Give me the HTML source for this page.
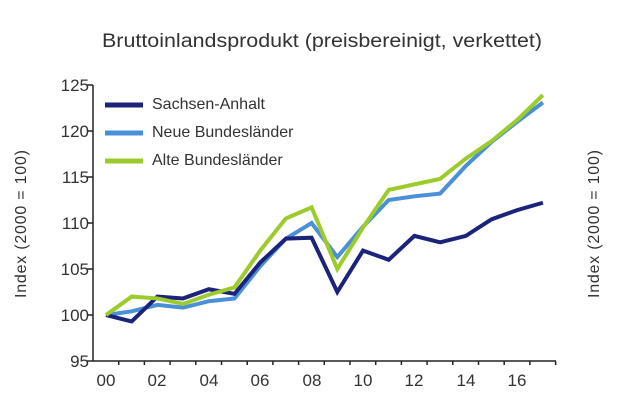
<!DOCTYPE html>
<html><head><meta charset="utf-8"><style>
html,body{margin:0;padding:0;background:#fff;}
svg{display:block;font-family:"Liberation Sans",sans-serif;}
text{fill:#333;}
</style></head><body>
<svg width="620" height="414" viewBox="0 0 620 414">
<text x="322" y="47" font-size="19" text-anchor="middle" textLength="440" lengthAdjust="spacingAndGlyphs">Bruttoinlandsprodukt (preisbereinigt, verkettet)</text>
<g stroke="#222" stroke-width="1.5" fill="none">
<line x1="93" y1="85" x2="93" y2="361"/>
<line x1="93" y1="361" x2="556" y2="361"/>
<line x1="87" y1="85" x2="93" y2="85"/>
<line x1="87" y1="131" x2="93" y2="131"/>
<line x1="87" y1="177" x2="93" y2="177"/>
<line x1="87" y1="223" x2="93" y2="223"/>
<line x1="87" y1="269" x2="93" y2="269"/>
<line x1="87" y1="315" x2="93" y2="315"/>
<line x1="87" y1="361" x2="93" y2="361"/>
<path d="M118.7 361v4M144.4 361v4M170.1 361v4M195.8 361v4M221.5 361v4M247.2 361v4M272.9 361v4M298.6 361v4M324.3 361v4M350 361v4M375.7 361v4M401.4 361v4M427.1 361v4M452.8 361v4M478.5 361v4M504.2 361v4M529.9 361v4M555.6 361v4"/>
</g>
<g font-size="17" text-anchor="end">
<text x="89" y="91">125</text><text x="89" y="137">120</text><text x="89" y="183">115</text>
<text x="89" y="229">110</text><text x="89" y="275">105</text><text x="89" y="321">100</text><text x="89" y="367">95</text>
</g>
<g font-size="17" text-anchor="middle">
<text x="106" y="386">00</text><text x="157" y="386">02</text><text x="209" y="386">04</text>
<text x="260" y="386">06</text><text x="312" y="386">08</text><text x="363" y="386">10</text>
<text x="414" y="386">12</text><text x="466" y="386">14</text><text x="517" y="386">16</text>
</g>
<text font-size="16" text-anchor="middle" textLength="148" transform="translate(26,224) rotate(-90)">Index (2000 = 100)</text>
<text font-size="16" text-anchor="middle" textLength="148" transform="translate(599,224) rotate(-90)">Index (2000 = 100)</text>
<g fill="none" stroke-width="4" transform="matrix(25.7 0 0 -9.2 106 1235)">
<polyline vector-effect="non-scaling-stroke" stroke="#4a90d9" points="0,100 1,100.4 2,101.1 3,100.8 4,101.5 5,101.8 6,105.3 7,108.3 8,110 9,106.3 10,109.6 11,112.5 12,112.9 13,113.2 14,116.2 15,118.8 16,121 17,123.1"/>
<polyline vector-effect="non-scaling-stroke" stroke="#1c237a" points="0,100 1,99.3 2,102 3,101.8 4,102.8 5,102.3 6,105.7 7,108.3 8,108.4 9,102.5 10,107 11,106 12,108.6 13,107.9 14,108.6 15,110.4 16,111.4 17,112.2"/>
<polyline vector-effect="non-scaling-stroke" stroke="#9ccb2c" points="0,100 1,102 2,101.8 3,101.2 4,102.2 5,103 6,107 7,110.5 8,111.7 9,105 10,109.5 11,113.6 12,114.2 13,114.8 14,117 15,118.9 16,121.2 17,123.9"/>
</g>
<g stroke-width="5">
<line x1="105" y1="105" x2="143" y2="105" stroke="#1c237a"/>
<line x1="105" y1="133" x2="143" y2="133" stroke="#4a90d9"/>
<line x1="105" y1="161" x2="143" y2="161" stroke="#9ccb2c"/>
</g>
<g font-size="16">
<text x="152" y="109">Sachsen-Anhalt</text>
<text x="152" y="137">Neue Bundesländer</text>
<text x="152" y="165">Alte Bundesländer</text>
</g>
</svg>
</body></html>
